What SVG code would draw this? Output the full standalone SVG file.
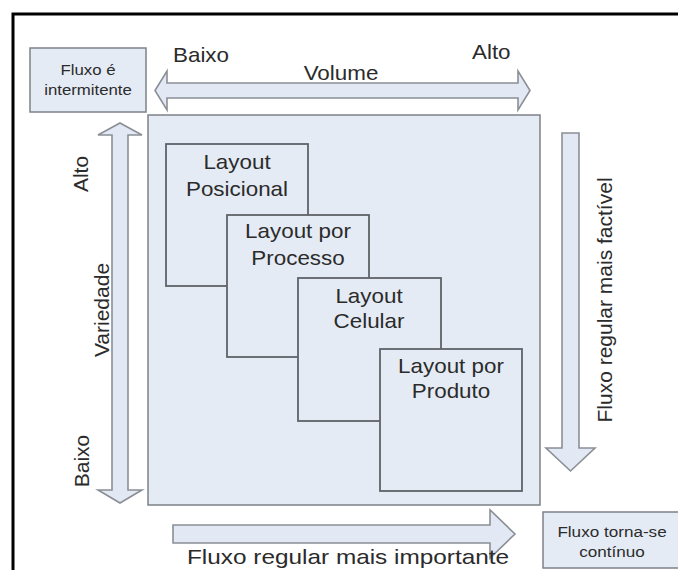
<svg xmlns="http://www.w3.org/2000/svg" width="678" height="570" viewBox="0 0 678 570">
<style>
text{font-family:"Liberation Sans",Arial,sans-serif;fill:#2b2b2b}
.lbl{font-size:20px}
.big{font-size:21px}
.sm{font-size:15px}
.box{fill:#e5ebf5;stroke:#7d8186;stroke-width:1.5}
.inner{fill:#e5ebf5;stroke:#5f6368;stroke-width:1.8}
.arrow{fill:#e2e9f4;stroke:#8b8f95;stroke-width:1.6;stroke-linejoin:miter}
</style>
<rect width="678" height="570" fill="#ffffff"/>
<path d="M13,572 V14 H680" fill="none" stroke="#000" stroke-width="3"/>

<g id="fluxo-intermitente">
<rect class="box" x="30" y="48" width="116" height="64"/>
<text class="sm" text-anchor="middle" transform="translate(88,75) scale(1.12,1)">Fluxo é</text>
<text class="sm" text-anchor="middle" transform="translate(88,95) scale(1.12,1)">intermitente</text>
</g>

<g id="fluxo-continuo">
<rect class="box" x="543" y="512" width="140" height="56"/>
<text class="sm" text-anchor="middle" transform="translate(612,537) scale(1.14,1)">Fluxo torna-se</text>
<text class="sm" text-anchor="middle" transform="translate(612,557) scale(1.14,1)">contínuo</text>
</g>

<g id="matriz">
<rect class="box" x="148" y="115" width="392" height="390"/>
</g>

<g id="connectors">
<polygon class="arrow" points="155,90.5 167,71 167,83 518,83 518,71 530,90.5 518,110 518,98 167,98 167,110"/>
<polygon class="arrow" points="120,123 142,135 128,135 128,490 142,490 120,503 98,490 112,490 112,135 98,135"/>
<polygon class="arrow" points="562,133 579,133 579,448 595,448 570.5,471 546,448 562,448"/>
<polygon class="arrow" points="173,525 490,525 490,510 515,534 490,558 490,543 173,543"/>
</g>

<g id="eixo-volume">
<text class="lbl" transform="translate(173,62) scale(1.12,1)">Baixo</text>
<text class="lbl" transform="translate(472,59) scale(1.12,1)">Alto</text>
<text class="lbl" text-anchor="middle" transform="translate(341,80) scale(1.12,1)">Volume</text>
</g>

<g id="eixo-variedade">
<text class="big" text-anchor="middle" transform="translate(88,174) rotate(-90)">Alto</text>
<text class="big" text-anchor="middle" transform="translate(109,310) rotate(-90)">Variedade</text>
<text class="big" text-anchor="middle" transform="translate(89,461) rotate(-90)">Baixo</text>
</g>

<g id="fluxo-factivel">
<text class="big" text-anchor="middle" transform="translate(612,300) rotate(-90)">Fluxo regular mais factível</text>
</g>

<g id="fluxo-importante">
<text class="big" transform="translate(187,564) scale(1.16,1)">Fluxo regular mais importante</text>
</g>

<g id="layout-posicional">
<rect class="inner" x="166" y="144" width="142" height="142"/>
<text class="lbl" text-anchor="middle" transform="translate(237,169) scale(1.12,1)">Layout</text>
<text class="lbl" text-anchor="middle" transform="translate(237,196) scale(1.12,1)">Posicional</text>
</g>

<g id="layout-processo">
<rect class="inner" x="227" y="215" width="142" height="142"/>
<text class="lbl" text-anchor="middle" transform="translate(298,238) scale(1.12,1)">Layout por</text>
<text class="lbl" text-anchor="middle" transform="translate(298,265) scale(1.12,1)">Processo</text>
</g>

<g id="layout-celular">
<rect class="inner" x="298" y="278" width="143" height="143"/>
<text class="lbl" text-anchor="middle" transform="translate(369,303) scale(1.12,1)">Layout</text>
<text class="lbl" text-anchor="middle" transform="translate(369,328) scale(1.12,1)">Celular</text>
</g>

<g id="layout-produto">
<rect class="inner" x="380" y="349" width="142" height="142"/>
<text class="lbl" text-anchor="middle" transform="translate(451,373) scale(1.12,1)">Layout por</text>
<text class="lbl" text-anchor="middle" transform="translate(451,398) scale(1.12,1)">Produto</text>
</g>
</svg>
